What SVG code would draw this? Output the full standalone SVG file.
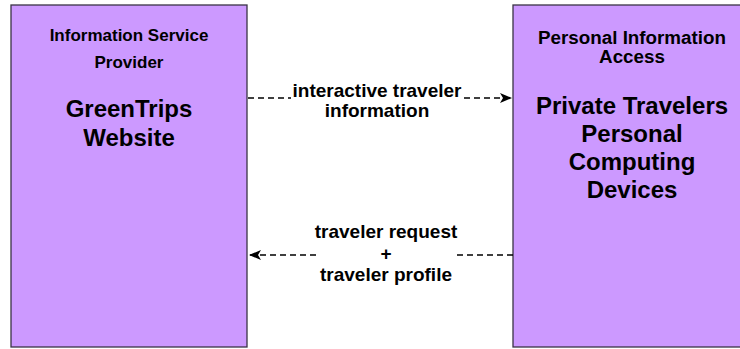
<svg xmlns="http://www.w3.org/2000/svg" width="740" height="349" viewBox="0 0 740 349">
<style>
.box{fill:#CC99FF;stroke:#3a3346;stroke-width:1.3}
.t{font-family:"Liberation Sans",Arial,sans-serif;font-weight:bold;fill:#000;text-anchor:middle}
.s{font-size:17px}
.s2{font-size:18.8px}
.b{font-size:24px}
.l{font-size:19px}
.c{fill:none;stroke:#000;stroke-width:1.5;stroke-dasharray:6 4}
</style>
<defs>
<marker id="arr" markerUnits="userSpaceOnUse" markerWidth="13" markerHeight="11" refX="12" refY="5" orient="auto">
<path d="M0,0 L12,5 L0,10 L3,5 z" fill="#000"/>
</marker>
</defs>
<rect width="740" height="349" fill="#fff"/>
<g id="isp">
<rect class="box" x="11" y="5" width="236" height="342"/>
<text class="t s" x="129" y="41">Information Service</text>
<text class="t s" x="129" y="68">Provider</text>
<text class="t b" x="129" y="117">GreenTrips</text>
<text class="t b" x="129" y="146">Website</text>
</g>
<g id="pia">
<rect class="box" x="513" y="5" width="238" height="342"/>
<text class="t s2" x="632" y="44">Personal Information</text>
<text class="t s2" x="632" y="63">Access</text>
<text class="t b" x="632" y="114">Private Travelers</text>
<text class="t b" x="632" y="142">Personal</text>
<text class="t b" x="632" y="170">Computing</text>
<text class="t b" x="632" y="198">Devices</text>
</g>
<g id="connectors">
<path class="c" d="M248,98 L291,98 M464,98 L512,98" marker-end="url(#arr)"/>
<text class="t l" x="377" y="97">interactive traveler</text>
<text class="t l" x="377" y="117">information</text>
<path class="c" d="M513,255 L457,255 M316,255 L249,255" marker-end="url(#arr)"/>
<text class="t l" x="386" y="238">traveler request</text>
<text class="t l" x="386" y="260">+</text>
<text class="t l" x="386" y="281">traveler profile</text>
</g>
</svg>
